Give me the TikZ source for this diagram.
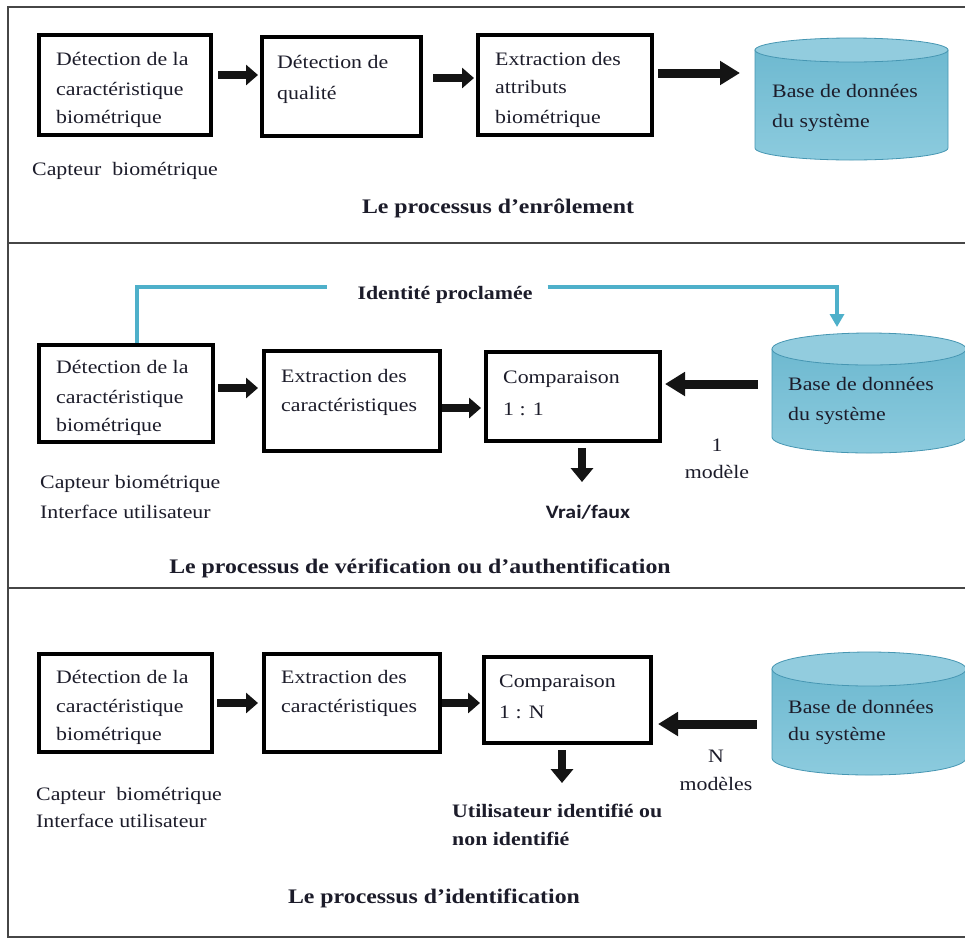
\documentclass[tikz,border=0pt]{standalone}
\usepackage{fontspec}
\setmainfont{Liberation Serif}[FakeStretch=1.15]
\newfontfamily\calib{Carlito}[FakeStretch=1.15]
\usetikzlibrary{arrows.meta,calc}
\definecolor{tc}{RGB}{28,28,42}
\definecolor{frame}{RGB}{70,70,70}
\definecolor{blueline}{RGB}{78,176,202}
\definecolor{dbl}{RGB}{140,203,222}
\definecolor{dbm}{RGB}{72,160,190}
\definecolor{dbtop}{RGB}{110,185,208}
\definecolor{dbt}{RGB}{146,204,222}
\definecolor{dbo}{RGB}{70,150,178}
\newcommand\dbcyl[5]{%
  \pgfmathsetmacro\cylcx{(#1+#3)/2}%
  \pgfmathsetmacro\cylrx{(#3-#1)/2}%
  \pgfmathsetmacro\cylc{#4-#5}%
  \pgfmathsetmacro\cylkx{0.5523*\cylrx}%
  \pgfmathsetmacro\cylky{0.5523*#5}%
  \shade[top color=dbtop, middle color=dbm, bottom color=dbl, draw=dbo, line width=0.8pt]
    (#1,#2+#5) -- (#1,\cylc)
    .. controls (#1,\cylc+\cylky) and (\cylcx-\cylkx,\cylc+#5) .. (\cylcx,\cylc+#5)
    .. controls (\cylcx+\cylkx,\cylc+#5) and (#3,\cylc+\cylky) .. (#3,\cylc)
    -- (#3,#2+#5) -- cycle;
  \filldraw[draw=dbo, fill=dbt, line width=0.8pt] (\cylcx,#2+#5) ellipse [x radius=\cylrx, y radius=#5];
}
\begin{document}
\begin{tikzpicture}[x=1pt,y=-1pt,
  box/.style={draw=black, line width=4pt, fill=white, inner sep=0pt},
  dbnode/.style={inner sep=0pt, outer sep=0pt},
  txt/.style={anchor=base west, inner sep=0pt, text=tc, font=\fontsize{19}{23}\selectfont},
  ctxt/.style={txt, anchor=base},
  btxt/.style={txt, font=\bfseries\fontsize{19}{23}\selectfont},
  ttl/.style={anchor=base, inner sep=0pt, text=tc, font=\bfseries\fontsize{20.7}{25}\selectfont},
  panel/.style={draw=frame, line width=1.8pt},
  blk/.style={draw=black!92, line width=8pt, -{Triangle[length=12pt,width=20pt]}},
  blkl/.style={draw=black!92, line width=9pt, -{Triangle[length=20pt,width=23pt]}},
  blkd/.style={draw=black!92, line width=8pt, -{Triangle[length=14pt,width=22pt]}},
  bl/.style={draw=blueline, line width=3.5pt}
]
\useasboundingbox (0,0) rectangle (965,938);
\fill[white] (0,0) rectangle (965,938);
% panels
\draw[panel] (8,7) rectangle (975,243);
\draw[panel] (8,243) rectangle (975,588);
\draw[panel] (8,588) rectangle (975,937);

% ---------------- Panel 1 ----------------
\node[box, minimum width=172pt, minimum height=100pt] (b11) at (125,85) {};
\node[box, minimum width=159pt, minimum height=99pt] (b12) at (341.5,86.5) {};
\node[box, minimum width=174pt, minimum height=100pt] (b13) at (565,85) {};
\dbcyl{755}{38}{948}{160}{12}
\node[dbnode, minimum width=193pt, minimum height=122pt] (db1) at (851.5,99) {};

\node[txt] (t11a) at (56,65) {Détection de la};
\node[txt] (t11b) at (56,95) {caractéristique};
\node[txt] (t11c) at (56,123) {biométrique};
\node[txt] (t12a) at (277,68) {Détection de};
\node[txt] (t12b) at (277,99) {qualité};
\node[txt] (t13a) at (495,65) {Extraction des};
\node[txt] (t13b) at (495,93) {attributs};
\node[txt] (t13c) at (495,123) {biométrique};
\node[txt] (td1a) at (772,97) {Base de données};
\node[txt] (td1b) at (772,127) {du système};
\node[txt] (cap1) at (32,175) {Capteur\ \ biométrique};
\node[ttl] (ttl1) at (498,213) {Le processus d’enrôlement};

\draw[blk, shorten <=5pt, shorten >=2pt] ([yshift=10pt]b11.east) -- ([yshift=10pt]b11.east -| b12.west);
\draw[blk, shorten <=10pt, shorten >=2pt] ([yshift=8.5pt]b12.east) -- ([yshift=8.5pt]b12.east -| b13.west);
\draw[blkl, shorten <=4pt, shorten >=15pt] ([yshift=12pt]b13.east) -- ([yshift=12pt]b13.east -| db1.west);

% ---------------- Panel 2 ----------------
\node[box, minimum width=174pt, minimum height=97pt] (b21) at (126,393.5) {};
\node[box, minimum width=176pt, minimum height=100pt] (b22) at (352,401) {};
\node[box, minimum width=174pt, minimum height=89pt] (b23) at (573,396.5) {};
\dbcyl{772}{333}{966}{453}{16}
\node[dbnode, minimum width=194pt, minimum height=120pt] (db2) at (869,393) {};

\node[txt] (t21a) at (56,373) {Détection de la};
\node[txt] (t21b) at (56,403) {caractéristique};
\node[txt] (t21c) at (56,431) {biométrique};
\node[txt] (t22a) at (281,382) {Extraction des};
\node[txt] (t22b) at (281,411) {caractéristiques};
\node[txt] (t23a) at (503,383) {Comparaison};
\node[txt] (t23b) at (503,415) {1 : 1};
\node[txt] (td2a) at (788,390) {Base de données};
\node[txt] (td2b) at (788,420) {du système};
\node[ctxt] (m2a) at (717,451) {1};
\node[ctxt] (m2b) at (717,478) {modèle};
\node[anchor=base, inner sep=0pt, text=tc, font=\calib\bfseries\fontsize{19}{23}\selectfont] (vf) at (588,518) {Vrai/faux};
\node[txt] (cap2a) at (40,488) {Capteur biométrique};
\node[txt] (cap2b) at (40,518) {Interface utilisateur};
\node[anchor=base, inner sep=0pt, text=tc, font=\bfseries\fontsize{19}{23}\selectfont] (id) at (445,299) {Identité proclamée};
\node[ttl] (ttl2) at (420,573) {Le processus de vérification ou d’authentification};

\coordinate (bl1) at (137,287);
\coordinate (bl2) at (837,287);
\draw[bl] (bl1 |- b21.north) -- (bl1) -- ([xshift=-30pt]bl1 -| id.west);
\draw[bl, line join=miter, -{Triangle[length=13pt,width=14pt]}, shorten >=6pt] ([xshift=15pt]bl2 -| id.east) -- (bl2) -- (bl2 |- db2.north);

\draw[blk, shorten <=3pt, shorten >=4pt] ([yshift=5.5pt]b21.east) -- ([yshift=5.5pt]b21.east -| b22.west);
\draw[blk, shorten <=0pt, shorten >=3pt] ([yshift=-7pt]b22.east) -- ([yshift=-7pt]b22.east -| b23.west);
\draw[blkl, shorten <=14pt, shorten >=3pt] ([yshift=9pt]db2.west) -- ([yshift=9pt]db2.west -| b23.east);
\coordinate (v2) at (582,482);
\draw[blkd, shorten <=5pt] (b23.south -| v2) -- (v2);

% ---------------- Panel 3 ----------------
\node[box, minimum width=173pt, minimum height=98pt] (b31) at (125.5,703) {};
\node[box, minimum width=176pt, minimum height=98pt] (b32) at (352,703) {};
\node[box, minimum width=167pt, minimum height=86pt] (b33) at (567.5,700) {};
\dbcyl{772}{652}{966}{775}{17}
\node[dbnode, minimum width=194pt, minimum height=123pt] (db3) at (869,713.5) {};

\node[txt] (t31a) at (56,683) {Détection de la};
\node[txt] (t31b) at (56,712) {caractéristique};
\node[txt] (t31c) at (56,740) {biométrique};
\node[txt] (t32a) at (281,683) {Extraction des};
\node[txt] (t32b) at (281,712) {caractéristiques};
\node[txt] (t33a) at (499,687) {Comparaison};
\node[txt] (t33b) at (499,718) {1 : N};
\node[txt] (td3a) at (788,713) {Base de données};
\node[txt] (td3b) at (788,740) {du système};
\node[ctxt] (m3a) at (716,762) {N};
\node[ctxt] (m3b) at (716,790) {modèles};
\node[btxt] (u3a) at (452,817) {Utilisateur identifié ou};
\node[btxt] (u3b) at (452,845) {non identifié};
\node[txt] (cap3a) at (36,800) {Capteur\ \ biométrique};
\node[txt] (cap3b) at (36,827) {Interface utilisateur};
\node[ttl] (ttl3) at (434,903) {Le processus d’identification};

\draw[blk, shorten <=3pt, shorten >=4pt] (b31.east) -- (b31.east -| b32.west);
\draw[blk, shorten <=0pt, shorten >=2pt] (b32.east) -- (b32.east -| b33.west);
\draw[blkl, shorten <=15pt, shorten >=5pt] ([yshift=-10.5pt]db3.west) -- ([yshift=-10.5pt]db3.west -| b33.east);
\coordinate (v3) at (562,783);
\draw[blkd, shorten <=5pt] (b33.south -| v3) -- (v3);
\end{tikzpicture}
\end{document}
